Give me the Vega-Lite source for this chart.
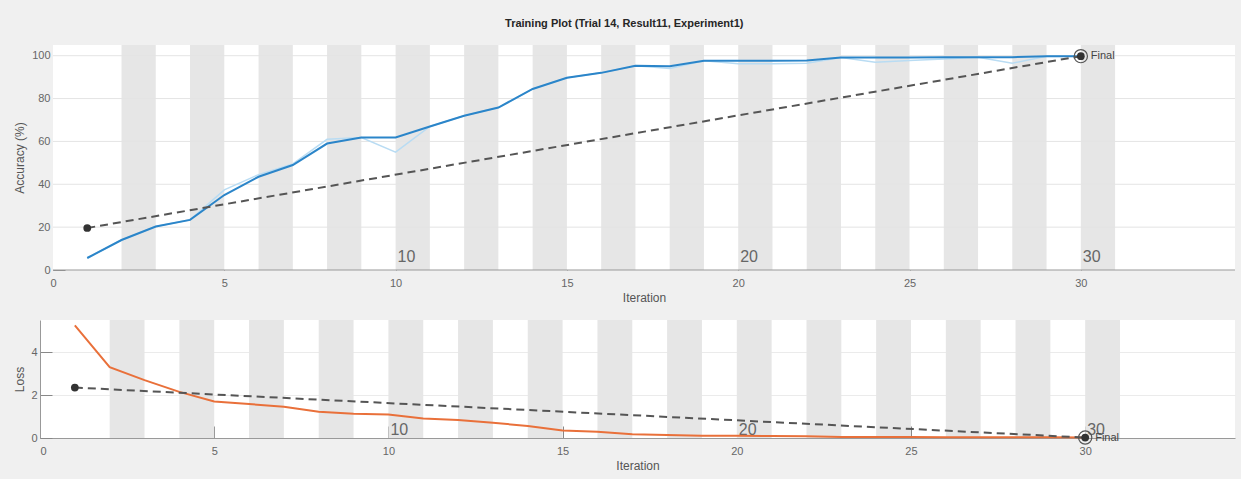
{
  "$schema": "https://vega.github.io/schema/vega-lite/v6.json",
  "background": "#f0f0f0",
  "padding": {"left": 13, "top": 18, "right": 5, "bottom": 8},
  "title": {"text": "Training Plot (Trial 14, Result11, Experiment1)", "fontSize": 11, "fontWeight": "bold", "font": "Liberation Sans", "color": "#262626", "anchor": "middle", "offset": 16},
  "config": {
    "view": {"stroke": null, "fill": "white"},
    "font": "Liberation Sans",
    "axis": {"labelFont": "Liberation Sans", "titleFont": "Liberation Sans", "labelFontSize": 11, "labelColor": "#666666", "titleFontSize": 12, "titleColor": "#555555", "titleFontWeight": "normal", "tickColor": "#888888", "domainColor": "#999999", "gridColor": "#ebebeb"}
  },
  "spacing": 17,
  "datasets": {
    "acc": [
      {"it": 1, "v": 5.6, "raw": 5.6},
      {"it": 2, "v": 14, "raw": 14},
      {"it": 3, "v": 20.3, "raw": 20.3},
      {"it": 4, "v": 23.4, "raw": 23.4},
      {"it": 5, "v": 35, "raw": 37.4},
      {"it": 6, "v": 43.5, "raw": 44.5},
      {"it": 7, "v": 49, "raw": 49.5},
      {"it": 8, "v": 59, "raw": 61},
      {"it": 9, "v": 61.8, "raw": 61.8},
      {"it": 10, "v": 61.8, "raw": 55},
      {"it": 11, "v": 67, "raw": 67},
      {"it": 12, "v": 72, "raw": 72},
      {"it": 13, "v": 75.8, "raw": 75.8},
      {"it": 14, "v": 84.5, "raw": 84.5},
      {"it": 15, "v": 89.7, "raw": 89.7},
      {"it": 16, "v": 92, "raw": 92},
      {"it": 17, "v": 95.3, "raw": 95.3},
      {"it": 18, "v": 95.1, "raw": 94},
      {"it": 19, "v": 97.6, "raw": 97.6},
      {"it": 20, "v": 97.6, "raw": 96.3},
      {"it": 21, "v": 97.6, "raw": 96.3},
      {"it": 22, "v": 97.8, "raw": 96.5},
      {"it": 23, "v": 99.2, "raw": 99.2},
      {"it": 24, "v": 99.2, "raw": 97},
      {"it": 25, "v": 99.2, "raw": 97.8},
      {"it": 26, "v": 99.3, "raw": 98.5},
      {"it": 27, "v": 99.3, "raw": 99.3},
      {"it": 28, "v": 99.3, "raw": 96.5},
      {"it": 29, "v": 99.8, "raw": 99.8},
      {"it": 30, "v": 99.8, "raw": 99.8}
    ],
    "loss": [
      {"it": 1, "v": 5.25}, {"it": 2, "v": 3.3}, {"it": 3, "v": 2.7}, {"it": 4, "v": 2.15},
      {"it": 5, "v": 1.7}, {"it": 6, "v": 1.58}, {"it": 7, "v": 1.46}, {"it": 8, "v": 1.22},
      {"it": 9, "v": 1.13}, {"it": 10, "v": 1.1}, {"it": 11, "v": 0.91}, {"it": 12, "v": 0.84},
      {"it": 13, "v": 0.71}, {"it": 14, "v": 0.56}, {"it": 15, "v": 0.35}, {"it": 16, "v": 0.29},
      {"it": 17, "v": 0.17}, {"it": 18, "v": 0.14}, {"it": 19, "v": 0.1}, {"it": 20, "v": 0.1},
      {"it": 21, "v": 0.09}, {"it": 22, "v": 0.08}, {"it": 23, "v": 0.05}, {"it": 24, "v": 0.05},
      {"it": 25, "v": 0.05}, {"it": 26, "v": 0.04}, {"it": 27, "v": 0.04}, {"it": 28, "v": 0.03},
      {"it": 29, "v": 0.03}, {"it": 30, "v": 0.02}
    ],
    "bands": [
      {"it": 2, "it2": 3}, {"it": 4, "it2": 5}, {"it": 6, "it2": 7}, {"it": 8, "it2": 9},
      {"it": 10, "it2": 11}, {"it": 12, "it2": 13}, {"it": 14, "it2": 15}, {"it": 16, "it2": 17},
      {"it": 18, "it2": 19}, {"it": 20, "it2": 21}, {"it": 22, "it2": 23}, {"it": 24, "it2": 25},
      {"it": 26, "it2": 27}, {"it": 28, "it2": 29}, {"it": 30, "it2": 31}
    ],
    "plotArea": [{"x0": 0, "x1": 34.5, "y0": 0, "y1": 105}],
    "gridAcc": [{"v": 20}, {"v": 40}, {"v": 60}, {"v": 80}, {"v": 100}],
    "epochs": [{"it": 10, "lab": "10"}, {"it": 20, "lab": "20"}, {"it": 30, "lab": "30"}],
    "refAcc": [{"it": 1, "v": 19.6, "pt": "start"}, {"it": 30, "v": 99.8, "pt": "final"}],
    "refLoss": [{"it": 1, "v": 2.35, "pt": "start"}, {"it": 30, "v": 0.02, "pt": "final"}]
  },
  "vconcat": [
    {
      "width": 1195,
      "height": 225,
      "view": {"fill": "#f0f0f0", "stroke": null},
      "layer": [
        {"data": {"name": "plotArea"}, "mark": {"type": "rect", "color": "white"},
         "encoding": {
           "x": {"field": "x0", "type": "quantitative"},
           "x2": {"field": "x1"},
           "y": {"field": "y0", "type": "quantitative"},
           "y2": {"field": "y1"}}},
        {"data": {"name": "bands"}, "mark": {"type": "rect", "color": "#e6e6e6"},
         "encoding": {
           "x": {"field": "it", "type": "quantitative"},
           "x2": {"field": "it2"},
           "y": {"datum": 0, "type": "quantitative"},
           "y2": {"datum": 105}}},
        {"data": {"name": "gridAcc"}, "mark": {"type": "rule", "color": "#e4e4e4", "strokeWidth": 1},
         "encoding": {
           "x": {"datum": 0, "type": "quantitative"},
           "x2": {"datum": 34.5},
           "y": {"field": "v", "type": "quantitative"}}},
        {"data": {"name": "plotArea"}, "mark": {"type": "rule", "color": "#999999", "strokeWidth": 1},
         "encoding": {
           "x": {"field": "x0", "type": "quantitative"},
           "x2": {"field": "x1"},
           "y": {"field": "y0", "type": "quantitative"}}},
        {"data": {"name": "epochs"}, "mark": {"type": "text", "align": "left", "baseline": "alphabetic", "dx": 2, "fontSize": 16, "color": "#666666"},
         "encoding": {
           "x": {"field": "it", "type": "quantitative"},
           "y": {"datum": 3.7, "type": "quantitative"},
           "text": {"field": "lab"}}},
        {"data": {"name": "acc"}, "mark": {"type": "line", "color": "#b9dcf3", "strokeWidth": 1.5},
         "encoding": {
           "x": {"field": "it", "type": "quantitative"},
           "y": {"field": "raw", "type": "quantitative"}}},
        {"data": {"name": "acc"}, "mark": {"type": "line", "color": "#2b85c9", "strokeWidth": 2},
         "encoding": {
           "x": {"field": "it", "type": "quantitative", "title": "Iteration",
                 "scale": {"domain": [-0.379, 34.5], "nice": false, "zero": false},
                 "axis": {"values": [0, 5, 10, 15, 20, 25, 30], "tickSize": -12, "labelPadding": 19, "titlePadding": 4, "grid": false, "domain": false, "titleX": 604}},
           "y": {"field": "v", "type": "quantitative", "title": "Accuracy (%)",
                 "scale": {"domain": [0, 105], "nice": false},
                 "axis": {"values": [0, 20, 40, 60, 80, 100], "tickSize": -12, "labelPadding": 15, "minExtent": 22, "maxExtent": 22, "titlePadding": 5, "grid": false, "offset": -13}}}},
        {"data": {"name": "refAcc"}, "mark": {"type": "line", "color": "#555555", "strokeWidth": 2, "strokeDash": [8, 5]},
         "encoding": {"x": {"field": "it", "type": "quantitative"}, "y": {"field": "v", "type": "quantitative"}}},
        {"data": {"name": "refAcc"}, "transform": [{"filter": "datum.pt === 'start'"}], "mark": {"type": "point", "filled": true, "color": "#333333", "size": 60, "opacity": 1},
         "encoding": {"x": {"field": "it", "type": "quantitative"}, "y": {"field": "v", "type": "quantitative"}}},
        {"data": {"name": "refAcc"}, "transform": [{"filter": "datum.pt === 'final'"}], "mark": {"type": "point", "filled": true, "color": "#333333", "size": 60, "opacity": 1},
         "encoding": {"x": {"field": "it", "type": "quantitative"}, "y": {"field": "v", "type": "quantitative"}}},
        {"data": {"name": "refAcc"}, "transform": [{"filter": "datum.pt === 'final'"}], "mark": {"type": "point", "filled": false, "color": "#555555", "size": 175, "strokeWidth": 1.2, "opacity": 1},
         "encoding": {"x": {"field": "it", "type": "quantitative"}, "y": {"field": "v", "type": "quantitative"}}},
        {"data": {"name": "refAcc"}, "transform": [{"filter": "datum.pt === 'final'"}], "mark": {"type": "text", "text": "Final", "align": "left", "baseline": "middle", "dx": 10, "fontSize": 11, "color": "#444444"},
         "encoding": {"x": {"field": "it", "type": "quantitative"}, "y": {"field": "v", "type": "quantitative"}}}
      ]
    },
    {
      "width": 1195,
      "height": 118,
      "layer": [
        {"data": {"name": "bands"}, "mark": {"type": "rect", "color": "#e6e6e6"},
         "encoding": {
           "x": {"field": "it", "type": "quantitative"},
           "x2": {"field": "it2"},
           "y": {"datum": 0, "type": "quantitative"},
           "y2": {"datum": 5.5}}},
        {"data": {"name": "epochs"}, "mark": {"type": "text", "align": "left", "baseline": "alphabetic", "dx": 2, "fontSize": 16, "color": "#666666"},
         "encoding": {
           "x": {"field": "it", "type": "quantitative"},
           "y": {"datum": 0.14, "type": "quantitative"},
           "text": {"field": "lab"}}},
        {"data": {"name": "loss"}, "mark": {"type": "line", "color": "#e9703a", "strokeWidth": 2},
         "encoding": {
           "x": {"field": "it", "type": "quantitative", "title": "Iteration",
                 "scale": {"domain": [0, 34.3], "nice": false, "zero": false},
                 "axis": {"values": [0, 5, 10, 15, 20, 25, 30], "tickSize": -12, "labelPadding": 19, "titlePadding": 4, "grid": false}},
           "y": {"field": "v", "type": "quantitative", "title": "Loss",
                 "scale": {"domain": [0, 5.5], "nice": false},
                 "axis": {"values": [0, 2, 4], "tickSize": -12, "labelPadding": 15, "minExtent": 9, "maxExtent": 9, "titlePadding": 5, "grid": true}}}},
        {"data": {"name": "refLoss"}, "mark": {"type": "line", "color": "#555555", "strokeWidth": 2, "strokeDash": [8, 5]},
         "encoding": {"x": {"field": "it", "type": "quantitative"}, "y": {"field": "v", "type": "quantitative"}}},
        {"data": {"name": "refLoss"}, "transform": [{"filter": "datum.pt === 'start'"}], "mark": {"type": "point", "filled": true, "color": "#333333", "size": 60, "opacity": 1},
         "encoding": {"x": {"field": "it", "type": "quantitative"}, "y": {"field": "v", "type": "quantitative"}}},
        {"data": {"name": "refLoss"}, "transform": [{"filter": "datum.pt === 'final'"}], "mark": {"type": "point", "filled": true, "color": "#333333", "size": 60, "opacity": 1},
         "encoding": {"x": {"field": "it", "type": "quantitative"}, "y": {"field": "v", "type": "quantitative"}}},
        {"data": {"name": "refLoss"}, "transform": [{"filter": "datum.pt === 'final'"}], "mark": {"type": "point", "filled": false, "color": "#555555", "size": 175, "strokeWidth": 1.2, "opacity": 1},
         "encoding": {"x": {"field": "it", "type": "quantitative"}, "y": {"field": "v", "type": "quantitative"}}},
        {"data": {"name": "refLoss"}, "transform": [{"filter": "datum.pt === 'final'"}], "mark": {"type": "text", "text": "Final", "align": "left", "baseline": "middle", "dx": 10, "fontSize": 11, "color": "#444444"},
         "encoding": {"x": {"field": "it", "type": "quantitative"}, "y": {"field": "v", "type": "quantitative"}}}
      ]
    }
  ]
}
